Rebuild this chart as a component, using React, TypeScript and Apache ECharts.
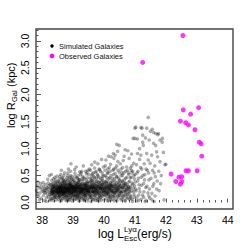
import React, { useEffect, useRef } from "react";
import * as echarts from "echarts";

const xMajorTicks = [38, 39, 40, 41, 42, 43, 44];
const xMinorTicks = [38.2, 38.4, 38.6, 38.8, 39.2, 39.4, 39.6, 39.8, 40.2, 40.4, 40.6, 40.8, 41.2, 41.4, 41.6, 41.8, 42.2, 42.4, 42.6, 42.8, 43.2, 43.4, 43.6, 43.8];
const yMajorTicks = [0, 0.5, 1.0, 1.5, 2.0, 2.5, 3.0];
const yMinorTicks = [0.1, 0.2, 0.3, 0.4, 0.6, 0.7, 0.8, 0.9, 1.1, 1.2, 1.3, 1.4, 1.6, 1.7, 1.8, 1.9, 2.1, 2.2, 2.3, 2.4, 2.6, 2.7, 2.8, 2.9, 3.1, 3.2];

const observedGalaxies = [
  [42.55, 3.10], [41.25, 2.60], [43.06, 1.76], [42.56, 1.72], [42.80, 1.64],
  [42.47, 1.51], [42.64, 1.48], [42.73, 1.44], [42.94, 1.35], [43.08, 1.12],
  [43.14, 1.09], [43.16, 0.86], [42.17, 0.53], [43.01, 0.59], [42.65, 0.59],
  [42.73, 0.59], [42.42, 0.47], [42.51, 0.48], [42.32, 0.39], [42.51, 0.39],
  [42.47, 0.34],
];

const simLeftEdge = [
  [37.82,0.22],[37.85,0.31],[37.88,0.12],[37.9,0.27],[37.93,0.18],[37.95,0.35],[37.97,0.08],[37.99,0.24],[37.84,0.15],[37.91,0.05],[37.96,0.29],[37.87,0.38],
  [38.02,0.21],[38.04,0.13],[38.05,0.3],[38.07,0.26],[38.08,0.04],[38.1,0.18],[38.11,0.34],[38.12,0.22],[38.14,0.09],[38.15,0.28],[38.16,0.16],[38.18,0.43],[38.19,0.24],[38.2,0.11],[38.21,0.31],[38.22,0.2],[38.23,0.5],[38.24,0.15],[38.03,0.37],[38.13,0.02],[38.06,0.19],[38.17,0.27],[38.09,0.23],[38.2,0.36],[38.25,0.06],
];

const simCore385 = [
  [38.26,0.19],[38.27,0.28],[38.28,0.12],[38.29,0.33],[38.3,0.22],[38.31,0.41],[38.32,0.17],[38.33,0.25],[38.34,0.08],[38.35,0.3],[38.36,0.21],[38.37,0.14],[38.38,0.36],[38.39,0.24],[38.4,0.19],[38.41,0.47],[38.42,0.27],[38.43,0.1],[38.44,0.23],[38.45,0.32],[38.46,0.16],[38.47,0.2],[38.48,0.38],[38.49,0.26],[38.5,0.13],[38.27,0.04],[38.3,0.52],[38.33,0.18],[38.36,0.29],[38.39,0.15],[38.42,0.21],[38.45,0.05],[38.48,0.24],[38.28,0.26],[38.31,0.2],[38.34,0.23],[38.37,0.31],[38.4,0.27],[38.43,0.34],[38.46,0.22],[38.49,0.18],[38.29,0.15],[38.35,0.17],[38.41,0.12],[38.47,0.29],[38.32,0.35],[38.38,0.09],[38.44,0.42],[38.5,0.29],[38.26,0.33],
  [38.51,0.21],[38.52,0.16],[38.53,0.3],[38.54,0.25],[38.55,0.11],[38.56,0.37],[38.57,0.2],[38.58,0.27],[38.59,0.14],[38.6,0.33],[38.61,0.23],[38.62,0.18],[38.63,0.45],[38.64,0.28],[38.65,0.07],[38.66,0.24],[38.67,0.35],[38.68,0.19],[38.69,0.29],[38.7,0.13],[38.71,0.4],[38.72,0.22],[38.73,0.26],[38.74,0.17],[38.75,0.31],[38.52,0.24],[38.54,0.4],[38.56,0.19],[38.58,0.03],[38.6,0.22],[38.62,0.29],[38.64,0.15],[38.66,0.32],[38.68,0.26],[38.7,0.21],[38.72,0.55],[38.74,0.09],[38.53,0.19],[38.55,0.28],[38.57,0.23],[38.59,0.35],[38.61,0.17],[38.63,0.25],[38.65,0.2],[38.67,0.12],[38.69,0.38],[38.71,0.27],[38.73,0.2],[38.75,0.05],[38.51,0.32],[38.55,0.18],[38.59,0.26],[38.63,0.31],[38.67,0.22],[38.71,0.16],[38.75,0.24],[38.53,0.1],[38.57,0.48],[38.61,0.3],[38.65,0.36],[38.69,0.18],[38.73,0.33],[38.52,0.27],[38.6,0.08],[38.68,0.42],[38.74,0.28],[38.58,0.2],[38.66,0.16],[38.7,0.3],[38.62,0.6],
  [38.76,0.2],[38.77,0.28],[38.78,0.15],[38.79,0.34],[38.8,0.23],[38.81,0.1],[38.82,0.41],[38.83,0.26],[38.84,0.19],[38.85,0.31],[38.86,0.06],[38.87,0.24],[38.88,0.37],[38.89,0.17],[38.9,0.29],[38.91,0.22],[38.92,0.5],[38.93,0.13],[38.94,0.27],[38.95,0.33],[38.96,0.2],[38.97,0.44],[38.98,0.25],[38.99,0.16],[39.0,0.3],[38.77,0.18],[38.79,0.25],[38.81,0.3],[38.83,0.14],[38.85,0.22],[38.87,0.36],[38.89,0.27],[38.91,0.09],[38.93,0.32],[38.95,0.21],[38.97,0.26],[38.99,0.38],[38.76,0.35],[38.78,0.24],[38.8,0.03],[38.82,0.2],[38.84,0.28],[38.86,0.33],[38.88,0.18],[38.9,0.4],[38.92,0.23],[38.94,0.15],[38.96,0.3],[38.98,0.19],[38.8,0.46],[38.84,0.12],[38.88,0.26],[38.92,0.31],[38.96,0.08],[39.0,0.22],[38.78,0.39],[38.82,0.27],[38.86,0.21],[38.9,0.16],[38.94,0.35],[38.98,0.29],[38.83,0.55],[38.87,0.04],[38.91,0.28],[38.95,0.42],[38.99,0.11],[38.85,0.62],[38.93,0.72],[38.79,0.12],[38.89,0.47],
];

const simCore395 = [
  [39.01,0.25],[39.02,0.17],[39.03,0.33],[39.04,0.22],[39.05,0.4],[39.06,0.12],[39.07,0.28],[39.08,0.2],[39.09,0.36],[39.1,0.26],[39.11,0.07],[39.12,0.31],[39.13,0.19],[39.14,0.45],[39.15,0.24],[39.16,0.15],[39.17,0.29],[39.18,0.38],[39.19,0.21],[39.2,0.27],[39.21,0.1],[39.22,0.34],[39.23,0.23],[39.24,0.52],[39.25,0.18],[39.02,0.29],[39.04,0.37],[39.06,0.24],[39.08,0.31],[39.1,0.16],[39.12,0.22],[39.14,0.27],[39.16,0.33],[39.18,0.13],[39.2,0.42],[39.22,0.25],[39.24,0.2],[39.01,0.14],[39.03,0.05],[39.05,0.26],[39.07,0.48],[39.09,0.18],[39.11,0.3],[39.13,0.35],[39.15,0.09],[39.17,0.22],[39.19,0.3],[39.21,0.57],[39.23,0.15],[39.25,0.32],[39.03,0.23],[39.07,0.14],[39.11,0.21],[39.15,0.37],[39.19,0.03],[39.23,0.28],[39.05,0.61],[39.09,0.27],[39.13,0.11],[39.17,0.41],[39.21,0.19],[39.25,0.25],[39.1,0.66],[39.2,0.08],
  [39.26,0.21],[39.27,0.34],[39.28,0.15],[39.29,0.27],[39.3,0.4],[39.31,0.23],[39.32,0.11],[39.33,0.3],[39.34,0.19],[39.35,0.47],[39.36,0.25],[39.37,0.06],[39.38,0.32],[39.39,0.22],[39.4,0.36],[39.41,0.17],[39.42,0.28],[39.43,0.53],[39.44,0.24],[39.45,0.13],[39.46,0.31],[39.47,0.2],[39.48,0.39],[39.49,0.26],[39.5,0.16],[39.27,0.19],[39.29,0.43],[39.31,0.29],[39.33,0.24],[39.35,0.14],[39.37,0.35],[39.39,0.28],[39.41,0.09],[39.43,0.23],[39.45,0.37],[39.47,0.27],[39.49,0.19],[39.26,0.3],[39.3,0.25],[39.34,0.33],[39.38,0.18],[39.42,0.42],[39.46,0.22],[39.5,0.3],[39.28,0.58],[39.32,0.2],[39.36,0.04],[39.4,0.26],[39.44,0.15],[39.48,0.6],[39.33,0.68],[39.45,0.56],[39.38,0.12],[39.29,0.08],[39.41,0.31],[39.47,0.07],[39.35,0.24],[39.43,0.19],
  [39.51,0.24],[39.52,0.36],[39.53,0.17],[39.54,0.29],[39.55,0.45],[39.56,0.21],[39.57,0.1],[39.58,0.33],[39.59,0.26],[39.6,0.5],[39.61,0.19],[39.62,0.3],[39.63,0.06],[39.64,0.38],[39.65,0.23],[39.66,0.14],[39.67,0.27],[39.68,0.42],[39.69,0.2],[39.7,0.32],[39.71,0.12],[39.72,0.56],[39.73,0.25],[39.74,0.35],[39.75,0.18],[39.52,0.22],[39.54,0.13],[39.56,0.4],[39.58,0.26],[39.6,0.31],[39.62,0.21],[39.64,0.16],[39.66,0.34],[39.68,0.28],[39.7,0.09],[39.72,0.24],[39.74,0.3],[39.53,0.62],[39.57,0.3],[39.61,0.41],[39.65,0.29],[39.69,0.64],[39.73,0.04],[39.55,0.19],[39.59,0.08],[39.63,0.27],[39.67,0.48],[39.71,0.22],[39.75,0.39],[39.6,0.7],[39.7,0.75],[39.58,0.02],[39.66,0.2],[39.62,0.53],
  [39.76,0.26],[39.77,0.16],[39.78,0.4],[39.79,0.22],[39.8,0.33],[39.81,0.1],[39.82,0.29],[39.83,0.47],[39.84,0.2],[39.85,0.36],[39.86,0.14],[39.87,0.27],[39.88,0.58],[39.89,0.23],[39.9,0.31],[39.91,0.05],[39.92,0.38],[39.93,0.19],[39.94,0.44],[39.95,0.25],[39.96,0.12],[39.97,0.33],[39.98,0.66],[39.99,0.21],[40.0,0.29],[39.77,0.31],[39.79,0.52],[39.81,0.24],[39.83,0.17],[39.85,0.27],[39.87,0.4],[39.89,0.09],[39.91,0.3],[39.93,0.25],[39.95,0.49],[39.97,0.18],[39.99,0.37],[39.78,0.07],[39.82,0.2],[39.86,0.61],[39.9,0.16],[39.94,0.28],[39.98,0.22],[39.8,0.72],[39.92,0.8],[39.84,0.03],[39.96,0.41],[39.88,0.34],[39.76,0.45],
];

const simCore405 = [
  [40.01,0.2],[40.02,0.35],[40.03,0.14],[40.04,0.27],[40.05,0.5],[40.06,0.23],[40.07,0.08],[40.08,0.32],[40.09,0.41],[40.1,0.18],[40.11,0.28],[40.12,0.62],[40.13,0.24],[40.14,0.11],[40.15,0.37],[40.16,0.21],[40.17,0.3],[40.18,0.46],[40.19,0.16],[40.2,0.26],[40.21,0.71],[40.22,0.05],[40.23,0.34],[40.24,0.22],[40.25,0.4],[40.03,0.29],[40.05,0.19],[40.07,0.37],[40.09,0.25],[40.11,0.55],[40.13,0.31],[40.15,0.15],[40.17,0.23],[40.19,0.33],[40.21,0.27],[40.23,0.12],[40.25,0.2],[40.04,0.68],[40.08,0.16],[40.12,0.03],[40.16,0.44],[40.2,0.58],[40.24,0.3],[40.06,0.79],[40.14,0.86],[40.1,0.35],[40.18,0.1],[40.23,0.85],[40.3,0.91],[40.36,0.88],
  [40.26,0.25],[40.27,0.15],[40.28,0.38],[40.29,0.21],[40.3,0.52],[40.31,0.3],[40.32,0.1],[40.33,0.27],[40.34,0.44],[40.35,0.18],[40.36,0.33],[40.37,0.64],[40.38,0.23],[40.39,0.06],[40.4,0.36],[40.41,0.2],[40.42,0.48],[40.43,0.28],[40.44,0.14],[40.45,0.76],[40.46,0.25],[40.47,0.33],[40.48,0.17],[40.49,0.56],[40.5,0.29],[40.27,0.31],[40.29,0.6],[40.31,0.19],[40.33,0.03],[40.35,0.4],[40.37,0.26],[40.39,0.22],[40.41,0.68],[40.43,0.11],[40.45,0.3],[40.47,0.45],[40.49,0.2],[40.41,1.08],[40.49,1.06],[40.32,0.82],[40.44,0.95],
  [40.51,0.22],[40.52,0.4],[40.53,0.13],[40.54,0.3],[40.55,0.62],[40.56,0.18],[40.57,0.35],[40.58,0.07],[40.59,0.27],[40.6,0.5],[40.61,0.21],[40.62,0.78],[40.63,0.32],[40.64,0.15],[40.65,0.42],[40.66,0.24],[40.67,0.04],[40.68,0.98],[40.69,0.35],[40.7,0.58],[40.71,0.19],[40.72,0.29],[40.73,0.1],[40.74,0.47],[40.75,0.25],[40.53,0.72],[40.57,0.2],[40.61,0.38],[40.65,0.86],[40.69,0.14],[40.73,0.66],[40.77,0.96],[40.58,0.55],[40.66,0.31],
  [40.76,0.33],[40.78,0.16],[40.79,0.55],[40.8,0.24],[40.81,0.82],[40.82,0.06],[40.83,0.4],[40.84,0.19],[40.85,0.64],[40.86,0.3],[40.87,0.12],[40.88,0.47],[40.89,0.9],[40.9,0.22],[40.91,0.36],[40.92,0.02],[40.93,0.58],[40.94,1.19],[40.95,0.27],[40.96,0.73],[40.97,0.15],[40.98,0.44],[40.99,0.31],[41.0,1.38],[41.0,1.19],[40.8,0.38],[40.86,0.08],[40.9,0.68],[40.96,0.2],[41.0,0.52],
];

const simDenseBand = [
  [38.31,0.24],[38.34,0.29],[38.38,0.2],[38.41,0.31],[38.44,0.17],[38.47,0.26],[38.5,0.36],[38.53,0.22],[38.56,0.28],[38.58,0.12],[38.61,0.26],[38.64,0.21],[38.66,0.4],[38.69,0.25],[38.72,0.19],[38.74,0.35],[38.77,0.22],[38.8,0.27],[38.83,0.33],[38.85,0.17],[38.88,0.23],[38.91,0.35],[38.93,0.25],[38.96,0.18],[38.99,0.27],[39.02,0.2],[39.04,0.31],[39.07,0.24],[39.09,0.12],[39.12,0.27],[39.15,0.3],[39.18,0.25],[39.2,0.17],[39.23,0.36],[39.26,0.26],[39.28,0.21],[39.31,0.35],[39.34,0.27],[39.36,0.16],[39.39,0.33],[39.42,0.22],[39.44,0.29],[39.47,0.35],[39.5,0.23],[39.52,0.29],[39.55,0.14],[39.58,0.38],[39.6,0.26],[39.63,0.21],[39.66,0.28],[39.69,0.35],[39.71,0.18],[39.74,0.25],[39.77,0.22],[39.8,0.29],[39.82,0.37],[39.85,0.14],[39.88,0.26],[39.91,0.2],[39.93,0.33],[39.96,0.27],[39.99,0.15],[40.02,0.26],[40.04,0.39],[40.07,0.2],[40.1,0.27],[40.13,0.17],[40.15,0.3],[40.18,0.24],[40.21,0.36],[40.23,0.2],[40.26,0.3],[40.29,0.12],[40.32,0.26],[40.34,0.34],[40.37,0.18],[40.4,0.29],[40.42,0.22],[40.45,0.38],[40.48,0.26],[40.5,0.14],[40.53,0.31],[40.56,0.26],[40.59,0.4],[40.61,0.12],[40.64,0.28],[40.67,0.2],[40.7,0.36],[40.72,0.24],[40.75,0.15],[40.78,0.28],[40.81,0.2],
  [38.33,0.2],[38.39,0.27],[38.45,0.22],[38.51,0.18],[38.57,0.3],[38.62,0.23],[38.68,0.16],[38.73,0.28],[38.79,0.2],[38.84,0.24],[38.9,0.32],[38.95,0.19],[39.01,0.29],[39.06,0.21],[39.11,0.34],[39.17,0.18],[39.22,0.3],[39.28,0.23],[39.33,0.16],[39.39,0.25],[39.44,0.32],[39.49,0.21],[39.55,0.27],[39.61,0.34],[39.67,0.2],[39.72,0.29],[39.78,0.18],[39.83,0.3],[39.89,0.26],[39.95,0.34],[40.01,0.23],[40.06,0.3],[40.12,0.19],[40.17,0.27],[40.22,0.32],[40.28,0.22],[40.33,0.17],[40.38,0.31],[40.44,0.24],[40.49,0.35],[40.54,0.19],[40.6,0.28],[40.66,0.34],[40.71,0.22],[40.77,0.3],[40.83,0.25],
];

const simUpperBand = [
  [38.36,0.44],[38.42,0.38],[38.48,0.49],[38.55,0.43],[38.6,0.52],[38.66,0.46],[38.7,0.5],[38.76,0.42],[38.82,0.5],[38.87,0.44],[38.92,0.58],[38.97,0.48],[39.02,0.42],[39.06,0.54],[39.12,0.46],[39.16,0.5],[39.21,0.43],[39.26,0.55],[39.3,0.48],[39.36,0.44],[39.4,0.58],[39.46,0.46],[39.51,0.52],[39.56,0.6],[39.6,0.44],[39.65,0.55],[39.7,0.47],[39.75,0.58],[39.8,0.5],[39.84,0.62],[39.89,0.45],[39.94,0.55],[39.99,0.5],[40.03,0.6],[40.08,0.47],[40.13,0.55],[40.17,0.65],[40.22,0.5],[40.27,0.45],[40.31,0.62],[40.36,0.54],[40.4,0.48],[40.45,0.6],[40.5,0.42],[40.55,0.5],[40.6,0.65],[40.64,0.55],[40.7,0.45],[40.75,0.6],[40.8,0.52],[40.85,0.46],[40.9,0.55],
];

const simLowerBand = [
  [38.3,0.07],[38.37,0.04],[38.44,0.1],[38.52,0.06],[38.57,0.13],[38.63,0.04],[38.7,0.09],[38.76,0.12],[38.82,0.06],[38.9,0.1],[38.96,0.03],[39.03,0.11],[39.08,0.06],[39.14,0.13],[39.22,0.04],[39.27,0.1],[39.34,0.05],[39.4,0.12],[39.47,0.03],[39.53,0.09],[39.6,0.12],[39.66,0.05],[39.72,0.14],[39.79,0.04],[39.86,0.09],[39.93,0.12],[40.0,0.05],[40.06,0.13],[40.14,0.04],[40.2,0.09],[40.27,0.06],[40.35,0.12],[40.42,0.03],[40.48,0.09],[40.55,0.05],[40.62,0.1],[40.69,0.03],[40.76,0.08],[40.84,0.12],[40.91,0.06],[40.98,0.1],[41.05,0.03],[41.12,0.14],[41.2,0.06],[41.28,0.1],[41.36,0.04],[41.45,0.12],[41.55,0.17],[41.62,0.02],
];

const simTail = [
  [41.02,0.25],[41.03,1.4],[41.05,0.7],[41.06,0.1],[41.08,1.18],[41.08,0.91],[41.09,0.4],[41.1,0.58],[41.12,0.04],[41.13,0.33],[41.15,0.8],[41.16,0.2],[41.19,1.39],[41.19,0.88],[41.2,0.47],[41.22,0.62],[41.23,1.38],[41.24,0.14],[41.25,1.25],[41.25,1.12],[41.27,1.06],[41.28,0.35],[41.3,0.72],[41.32,0.52],[41.33,0.02],[41.35,0.28],[41.38,0.91],[41.38,1.38],[41.4,0.6],[41.42,0.18],[41.43,0.79],[41.43,1.58],[41.45,0.42],[41.46,1.16],[41.48,0.08],[41.49,0.73],[41.5,1.32],[41.15,1.0],[41.34,1.2],
  [41.54,0.88],[41.56,1.36],[41.58,0.3],[41.6,1.1],[41.6,1.3],[41.62,0.55],[41.65,0.12],[41.67,1.06],[41.67,1.28],[41.7,0.94],[41.72,0.4],[41.73,0.85],[41.74,1.26],[41.76,1.28],[41.78,0.22],[41.81,1.16],[41.81,0.76],[41.85,0.5],[41.88,1.12],[41.89,1.19],[41.92,0.93],[41.94,0.05],[41.97,0.7],[42.0,0.71],[41.64,0.68],[41.55,0.05],
  [40.84,0.28],[40.88,0.6],[40.93,0.34],[40.97,0.5],[41.01,0.38],[41.04,0.22],[41.07,0.55],[41.11,0.45],[41.14,0.26],[41.18,0.65],[41.21,0.32],[41.26,0.5],[41.29,0.2],[41.31,0.42],[41.36,0.62],[41.39,0.3],[41.44,0.55],[41.47,0.25],[41.52,0.45],[41.57,0.6],[41.61,0.35],[41.66,0.48],[41.7,0.25],[41.77,0.58],[41.83,0.35],
];

const simulatedGalaxies = [
  ...simLeftEdge, ...simCore385, ...simCore395, ...simCore405,
  ...simDenseBand, ...simUpperBand, ...simLowerBand, ...simTail,
];

const FONT = "'Liberation Sans', Arial, Helvetica, sans-serif";

export default function App() {
  const ref = useRef<HTMLDivElement>(null);
  useEffect(() => {
    if (!ref.current) return;
    const chart = echarts.init(ref.current, null, { renderer: "svg" });
    const xRange = { min: 37.8, max: 44.17 };
    const yRange = { min: -0.12, max: 3.22 };
    chart.setOption({
      animation: false,
      backgroundColor: "#fff",
      grid: {
        left: 36, top: 29, width: 197, height: 180,
        show: true, borderColor: "#444", borderWidth: 1.4, backgroundColor: "transparent",
      },
      xAxis: [
        {
          type: "value", ...xRange, position: "bottom",
          axisLine: { show: false }, splitLine: { show: false },
          axisTick: { show: true, inside: true, length: 4, customValues: xMajorTicks, lineStyle: { color: "#555", width: 1 } },
          axisLabel: { customValues: xMajorTicks, fontSize: 10.5, fontFamily: FONT, color: "#000", margin: 5 },
        },
        {
          type: "value", ...xRange, position: "bottom",
          axisLine: { show: false }, splitLine: { show: false },
          axisTick: { show: true, inside: true, length: 2.5, customValues: xMinorTicks, lineStyle: { color: "#555", width: 1 } },
          axisLabel: { show: false },
        },
      ],
      yAxis: [
        {
          type: "value", ...yRange, position: "left",
          axisLine: { show: false }, splitLine: { show: false },
          axisTick: { show: true, inside: true, length: 5, customValues: yMajorTicks, lineStyle: { color: "#555", width: 1 } },
          axisLabel: {
            customValues: yMajorTicks, rotate: 90, fontSize: 10.5, fontFamily: FONT, color: "#000", margin: 6,
            formatter: (v: number) => v.toFixed(1),
          },
        },
        {
          type: "value", ...yRange, position: "left",
          axisLine: { show: false }, splitLine: { show: false },
          axisTick: { show: true, inside: true, length: 2.5, customValues: yMinorTicks, lineStyle: { color: "#555", width: 1 } },
          axisLabel: { show: false },
        },
      ],
      graphic: [
        { type: "circle", shape: { cx: 52, cy: 46, r: 1.7 }, style: { fill: "#000" } },
        { type: "text", x: 59, y: 46, style: { text: "Simulated Galaxies", fontSize: 7.5, fontFamily: FONT, fill: "#111", verticalAlign: "middle" } },
        { type: "circle", shape: { cx: 52, cy: 56, r: 2.4 }, style: { fill: "#ff00ff" } },
        { type: "text", x: 59, y: 56, style: { text: "Observed Galaxies", fontSize: 7.5, fontFamily: FONT, fill: "#111", verticalAlign: "middle" } },
        {
          type: "group", x: 98, y: 234,
          children: [
            { type: "text", x: 0, y: 0, style: { text: "log L", fontSize: 12, fontFamily: FONT, fill: "#000", verticalAlign: "middle" } },
            { type: "text", x: 26, y: -4.5, style: { text: "Lyα", fontSize: 8, fontFamily: FONT, fill: "#000", verticalAlign: "middle" } },
            { type: "text", x: 26, y: 4.5, style: { text: "Esc", fontSize: 8, fontFamily: FONT, fill: "#000", verticalAlign: "middle" } },
            { type: "text", x: 39, y: 0, style: { text: "(erg/s)", fontSize: 12, fontFamily: FONT, fill: "#000", verticalAlign: "middle" } },
          ],
        },
        {
          type: "group", x: 11, y: 128, rotation: Math.PI / 2,
          children: [
            { type: "text", x: 0, y: 0, style: { text: "log R", fontSize: 11, fontFamily: FONT, fill: "#000", verticalAlign: "middle" } },
            { type: "text", x: 26, y: 3.5, style: { text: "Gal", fontSize: 7.5, fontFamily: FONT, fill: "#000", verticalAlign: "middle" } },
            { type: "text", x: 41, y: 0, style: { text: "(kpc)", fontSize: 11, fontFamily: FONT, fill: "#000", verticalAlign: "middle" } },
          ],
        },
      ],
      series: [
        {
          name: "Simulated Galaxies", type: "scatter", xAxisIndex: 0, yAxisIndex: 0,
          data: simulatedGalaxies, symbol: "circle", symbolSize: 3.6,
          itemStyle: { color: "rgba(0,0,0,0.4)" }, silent: true,
        },
        {
          name: "Observed Galaxies", type: "scatter", xAxisIndex: 0, yAxisIndex: 0,
          data: observedGalaxies, symbol: "circle", symbolSize: 5, z: 3,
          itemStyle: { color: "#ff00ff" }, silent: true,
        },
      ],
    });
    return () => chart.dispose();
  }, []);
  return <div ref={ref} style={{ width: 249, height: 249, position: "absolute", left: 0, top: 0 }} />;
}
